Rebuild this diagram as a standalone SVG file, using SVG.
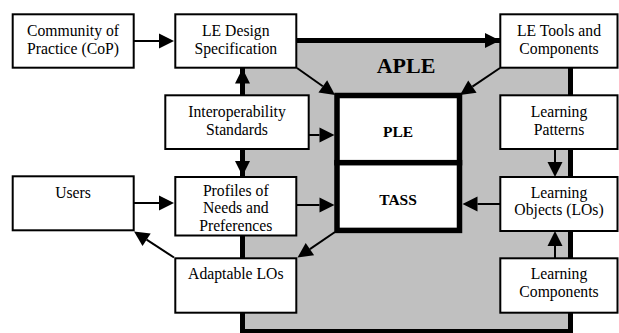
<svg xmlns="http://www.w3.org/2000/svg" width="619" height="333" viewBox="0 0 619 333">
<defs>
<style>
.box{fill:#fff;stroke:#000;stroke-width:2}
.core{fill:#fff;stroke:#000;stroke-width:5.5}
.t{font-family:'Liberation Serif','Times New Roman',serif;font-size:15.7px;fill:#000;text-anchor:middle}
.b{font-family:'Liberation Serif','Times New Roman',serif;font-weight:bold;fill:#000;text-anchor:middle}
.thin{fill:none;stroke:#000;stroke-width:2;marker-end:url(#ah)}
.thick{fill:none;stroke:#000;stroke-width:5;marker-end:url(#ah)}
</style>
<marker id="ah" markerUnits="userSpaceOnUse" markerWidth="16" markerHeight="16" viewBox="0 -8 16 16" refX="0" refY="0" orient="auto" overflow="visible">
<path d="M0,-7.5L15,0L0,7.5z" fill="#000"/>
</marker>
</defs>
<g id="aple">
<rect x="242.5" y="40.5" width="328" height="291" fill="#c0c0c0" stroke="#000" stroke-width="5"/>
<text class="b" x="406" y="72.5" font-size="22">APLE</text>
</g>
<g id="connectors">
<path class="thin" d="M134,41H159"/>
<path class="thick" d="M297,40.5H485"/>
<path class="thick" d="M242.5,95V83.5"/>
<path class="thick" d="M242.5,149V161"/>
<path class="thin" d="M309,135H319.5"/>
<path class="thin" d="M297,205H319.5"/>
<path class="thin" d="M500,204H477.5"/>
<path class="thin" d="M134,203H159"/>
<path class="thin" d="M555,149V162"/>
<path class="thin" d="M555,258V246"/>
<path class="thin" d="M297,68L322.8,86.3"/>
<path class="thin" d="M500,68L472.4,86.6"/>
<path class="thin" d="M335,232L309.9,249.1"/>
<path class="thin" d="M174,257.5L146.6,239.7"/>
</g>
<g id="cop">
<rect class="box" x="12.7" y="14.3" width="121" height="53.4"/>
<text class="t" x="73" y="36">Community of</text>
<text class="t" x="73" y="54.3">Practice (CoP)</text>
</g>
<g id="le-design">
<rect class="box" x="175.3" y="14.3" width="121" height="53.4"/>
<text class="t" x="235.8" y="36">LE Design</text>
<text class="t" x="235.8" y="54.3">Specification</text>
</g>
<g id="le-tools">
<rect class="box" x="500.3" y="14.3" width="117.2" height="53.4"/>
<text class="t" x="559" y="36">LE Tools and</text>
<text class="t" x="559" y="54.3">Components</text>
</g>
<g id="interop">
<rect class="box" x="165.3" y="95.3" width="143.4" height="53.7"/>
<text class="t" x="237" y="116.7">Interoperability</text>
<text class="t" x="237" y="134.5">Standards</text>
</g>
<g id="patterns">
<rect class="box" x="500.3" y="95.3" width="117.2" height="53.7"/>
<text class="t" x="559" y="116.7">Learning</text>
<text class="t" x="559" y="134.5">Patterns</text>
</g>
<g id="ple">
<rect class="core" x="337" y="95.5" width="122.5" height="67.2"/>
<text class="b" x="398" y="137" font-size="15.5">PLE</text>
</g>
<g id="tass">
<rect class="core" x="337" y="162.7" width="122.5" height="67.7"/>
<text class="b" x="398" y="204.5" font-size="15.5">TASS</text>
</g>
<g id="users">
<rect class="box" x="12.7" y="176.3" width="121" height="54"/>
<text class="t" x="73" y="197.7">Users</text>
</g>
<g id="profiles">
<rect class="box" x="175.3" y="177" width="121" height="58.5"/>
<text class="t" x="235.8" y="196">Profiles of</text>
<text class="t" x="235.8" y="213.3">Needs and</text>
<text class="t" x="235.8" y="230.5">Preferences</text>
</g>
<g id="los">
<rect class="box" x="500.3" y="177" width="117.2" height="54"/>
<text class="t" x="559" y="197.7">Learning</text>
<text class="t" x="559" y="215.3">Objects (LOs)</text>
</g>
<g id="adaptable">
<rect class="box" x="175.3" y="258.3" width="121" height="54.4"/>
<text class="t" x="235.8" y="279.3">Adaptable LOs</text>
</g>
<g id="components">
<rect class="box" x="500.3" y="258.3" width="117.2" height="54.4"/>
<text class="t" x="559" y="279.3">Learning</text>
<text class="t" x="559" y="297">Components</text>
</g>
</svg>
